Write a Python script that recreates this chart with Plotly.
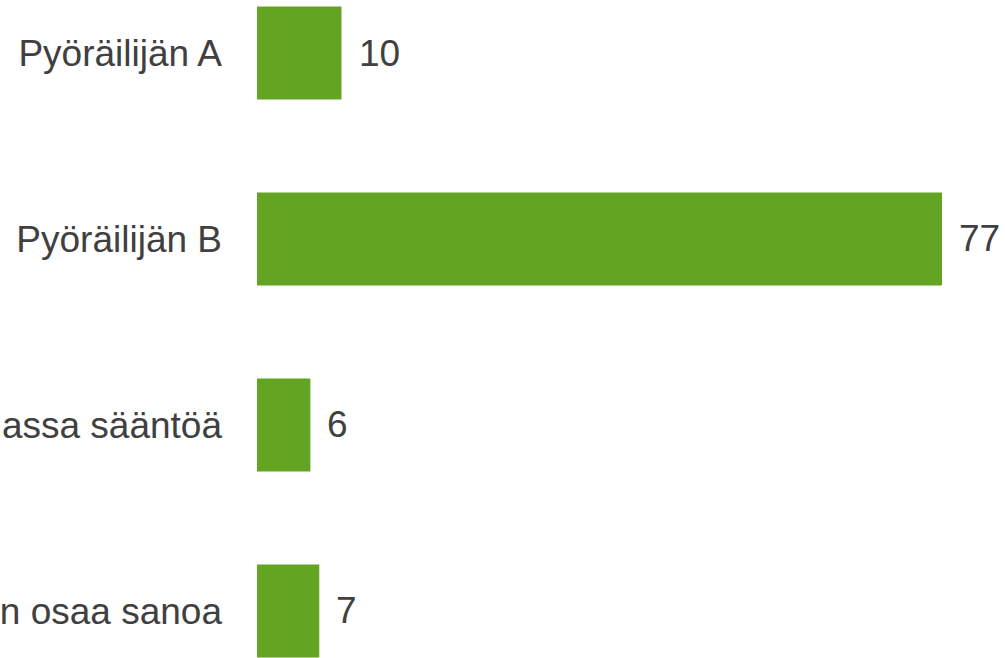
import plotly.graph_objects as go

categories = ["Pyöräilijän A", "Pyöräilijän B", "Ei ole olemassa sääntöä", "En osaa sanoa"]
values = [9.5, 77, 6, 7]
value_labels = ["10", "77", "6", "7"]

bar_color = "#63A523"
text_color = "#404040"
font_family = "Arial"
font_size = 37

fig = go.Figure()
fig.add_trace(go.Bar(
    y=categories,
    x=values,
    orientation="h",
    marker=dict(color=bar_color, line=dict(width=0)),
    width=0.5,
    hoverinfo="skip",
))

for cat, val, lab in zip(categories, values, value_labels):
    fig.add_annotation(
        x=val, y=cat, text=lab, showarrow=False,
        xanchor="left", yanchor="middle", xshift=15,
        font=dict(family=font_family, size=font_size, color=text_color),
    )

fig.update_layout(
    width=1005, height=658,
    margin=dict(l=257, r=0, t=0, b=0, autoexpand=False),
    paper_bgcolor="white", plot_bgcolor="white",
    showlegend=False,
    font=dict(family=font_family, size=font_size, color=text_color),
    xaxis=dict(range=[0, 84.08], visible=False, fixedrange=True),
    yaxis=dict(
        range=[3.253, -0.285], type="category",
        categoryorder="array", categoryarray=categories,
        showgrid=False, zeroline=False, showline=False,
        ticks="", ticklabelstandoff=34, automargin=False,
        tickfont=dict(family=font_family, size=font_size, color=text_color),
    ),
)

fig.write_html(
    "out.html",
    config={"displayModeBar": False},
    post_script="document.body.style.margin='0';document.body.style.overflow='hidden';",
)
